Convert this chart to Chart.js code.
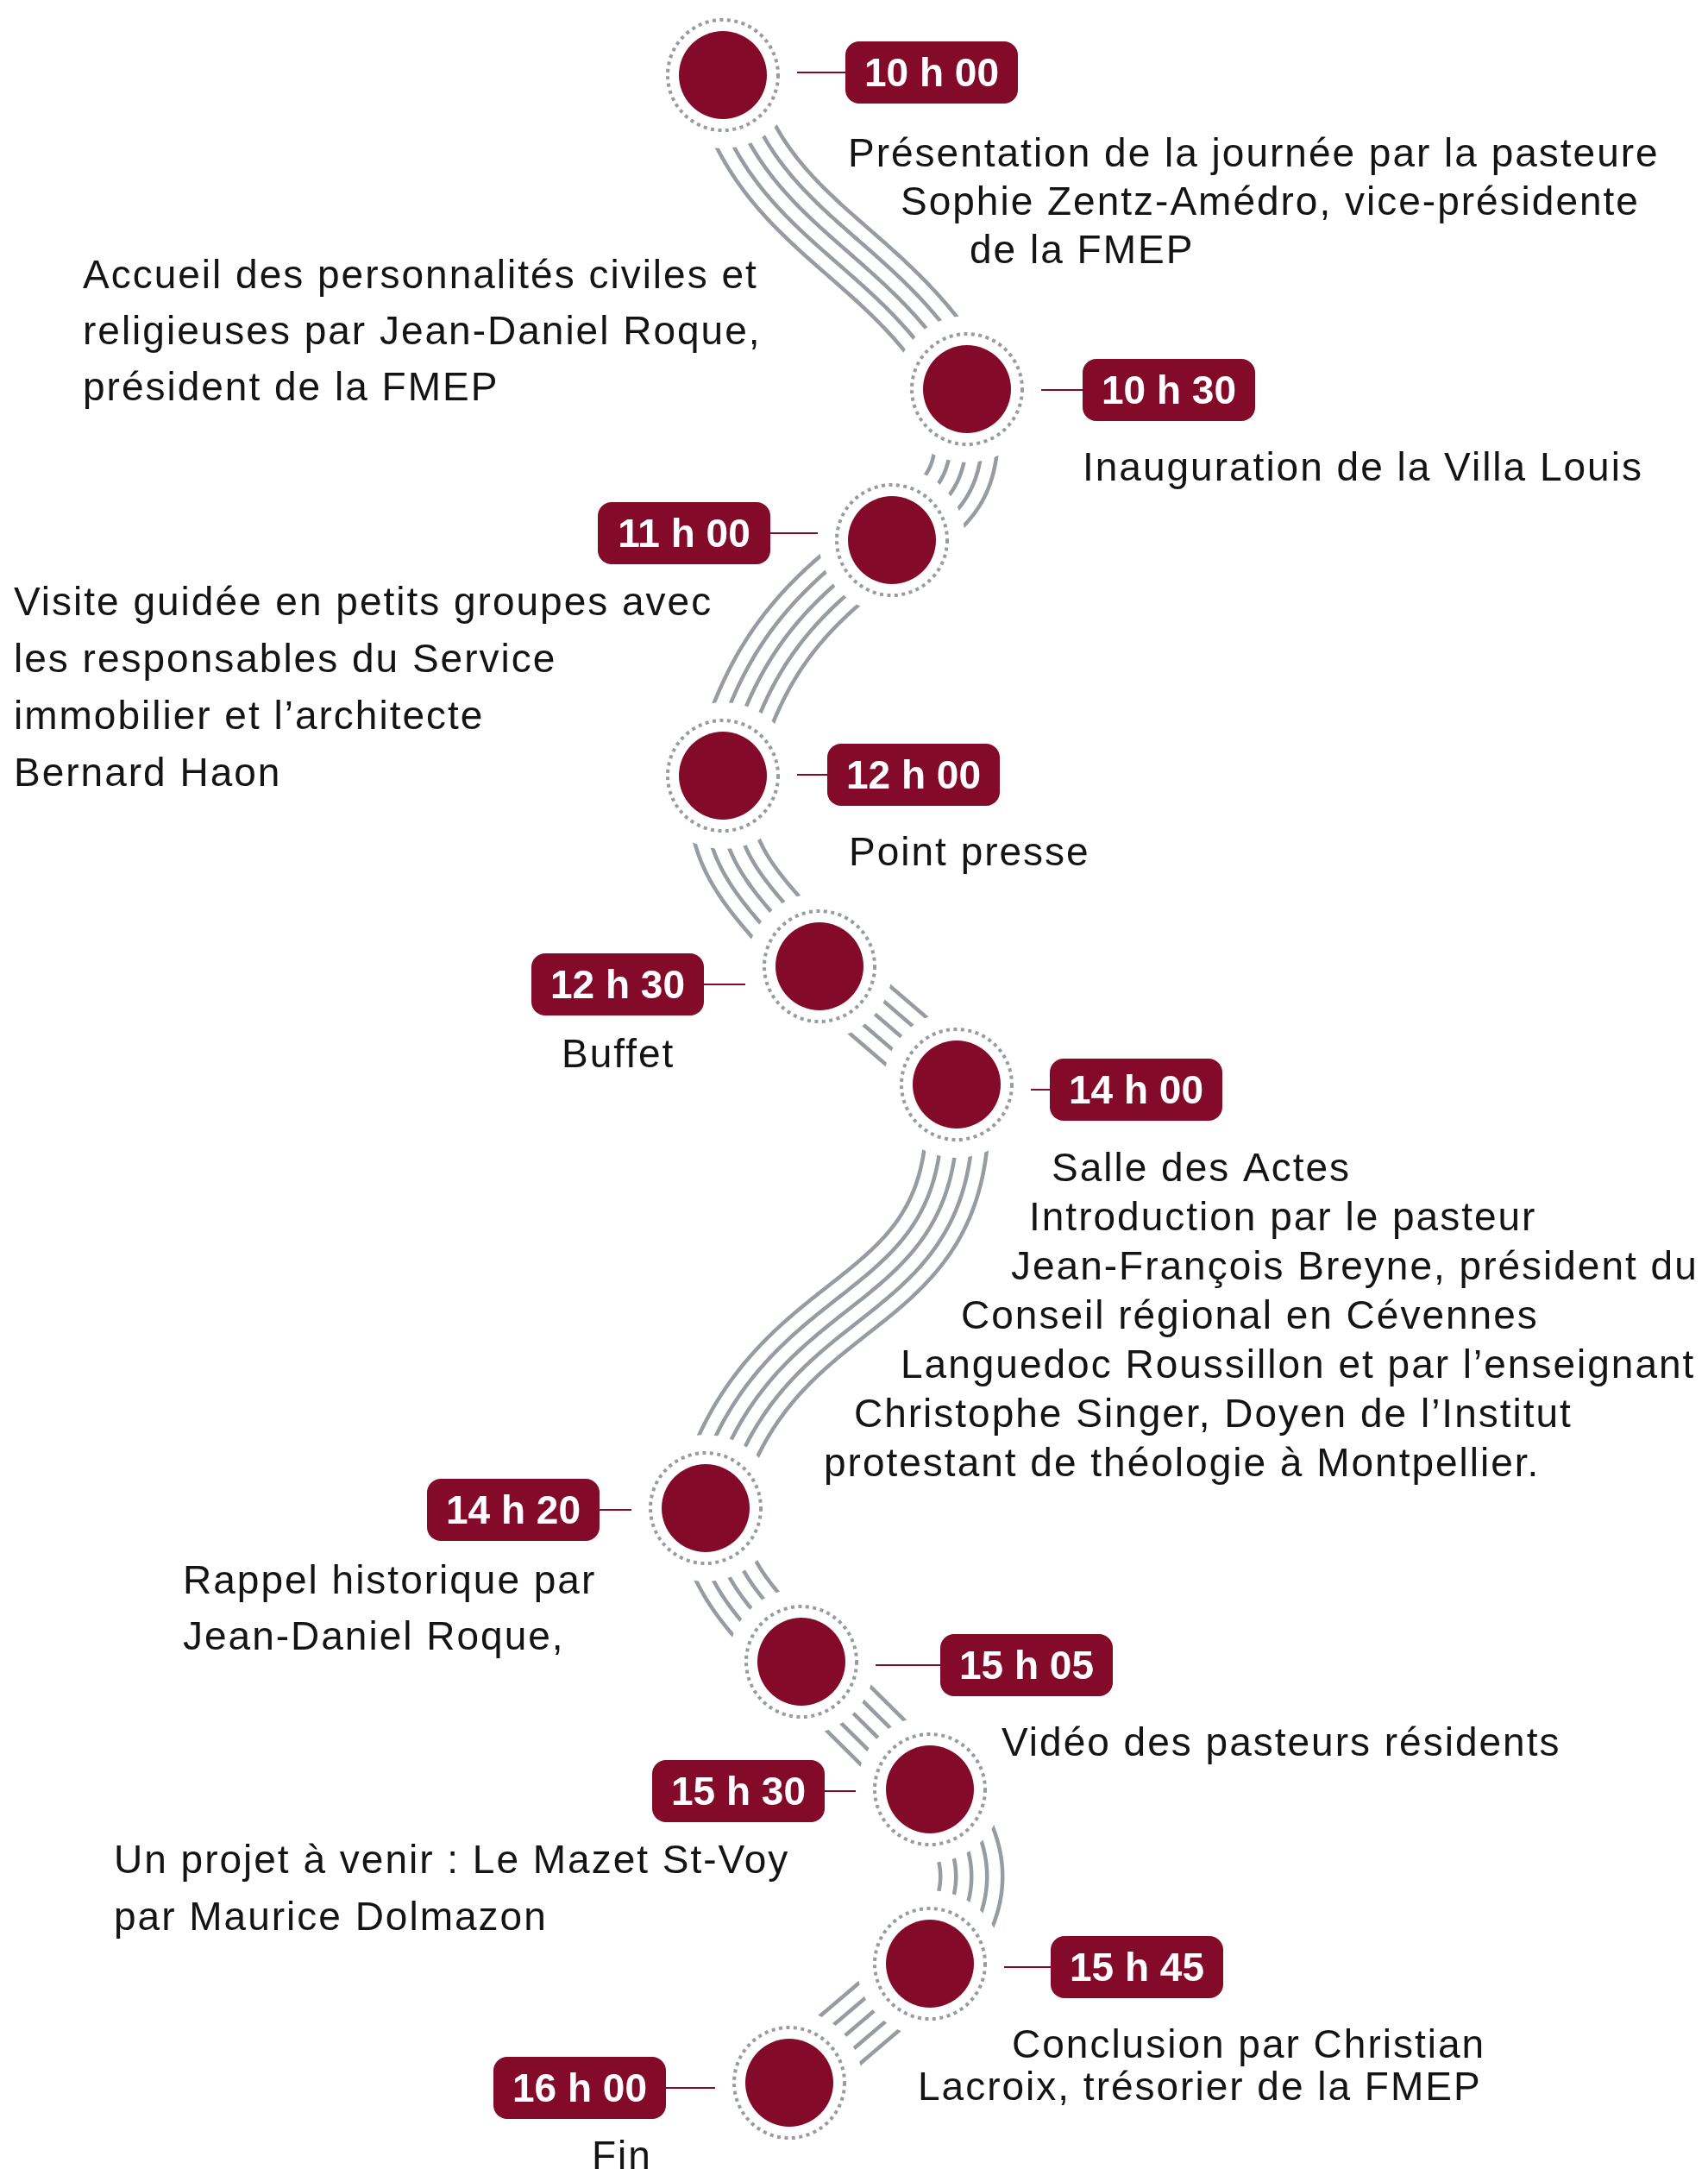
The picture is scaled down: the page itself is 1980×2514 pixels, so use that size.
<!DOCTYPE html>
<html lang="fr">
<head>
<meta charset="utf-8">
<title>Programme de la journée</title>
<script src="https://cdn.jsdelivr.net/npm/chart.js@4.4.1/dist/chart.umd.min.js"></script>
<style>
  html, body { margin: 0; padding: 0; background: #fff; }
  #wrap { width: 1980px; height: 2514px; }
</style>
</head>
<body>
<div id="wrap"><canvas id="timeline" width="1980" height="2514"></canvas></div>
<script>
// Steps of the day, top to bottom
const times = ['10 h 00', '10 h 30', '11 h 00', '12 h 00', '12 h 30', '14 h 00',
               '14 h 20', '15 h 05', '15 h 30', '15 h 45', '16 h 00'];

// Where each step sits on the winding path (chart units, y counts downward)
const stepX = [838, 1121, 1034, 838, 950, 1109, 818, 929, 1078, 1078, 915];
const stepY = [87, 451, 626, 899, 1120, 1257, 1748, 1926, 2074, 2276, 2414];

// Text blocks, one list of lines each
const notes = [
    ['Présentation de la journée par la pasteure', 'Sophie Zentz-Amédro, vice-présidente', 'de la FMEP'],
    ['Accueil des personnalités civiles et', 'religieuses par Jean-Daniel Roque,', 'président de la FMEP'],
    ['Inauguration de la Villa Louis'],
    ['Visite guidée en petits groupes avec', 'les responsables du Service', 'immobilier et l’architecte', 'Bernard Haon'],
    ['Point presse'],
    ['Buffet'],
    ['Salle des Actes', 'Introduction par le pasteur', 'Jean-François Breyne, président du',
     'Conseil régional en Cévennes', 'Languedoc Roussillon et par l’enseignant',
     'Christophe Singer, Doyen de l’Institut', 'protestant de théologie à Montpellier.'],
    ['Rappel historique par', 'Jean-Daniel Roque,'],
    ['Vidéo des pasteurs résidents'],
    ['Un projet à venir : Le Mazet St-Voy', 'par Maurice Dolmazon'],
    ['Conclusion par Christian', 'Lacroix, trésorier de la FMEP'],
    ['Fin']
];

// ---- layout (pixels) ----
const labelX = [1080, 1355, 793, 1059, 716, 1317, 595, 1190, 856, 1318, 672];   // time box centres
const labelY = [84, 452, 618, 898, 1141, 1263, 1750, 1930, 2076, 2280, 2420];
const noteX = [[983, 1044, 1124], [96, 96, 96], [1255], [16, 16, 16, 16], [984], [651],
               [1219, 1193, 1172, 1114, 1044, 990, 955], [212, 212], [1161], [132, 132],
               [1173, 1064], [686]];
const noteY = [[193, 249, 305], [334, 399, 464], [557], [713, 779, 845, 911], [1003], [1237],
               [1369, 1426, 1483, 1540, 1597, 1654, 1711], [1847, 1912], [2035], [2171, 2237],
               [2385, 2434], [2514]];
// direction of the path leaving / entering each step (degrees, 90 = straight down)
const turnOut = [76, 88, 145, 100, 41, 86, 80, 45, 45, 140];
const turnIn  = [62, 150, 105, 50, 41, 105, 45, 45, 135, 140];
const bendLen = [0.4, 0.5, 0.4, 0.4, 0.33, 0.5, 0.4, 0.33, 0.45, 0.33];

const MAROON = '#840a29';
const GREY = '#969ca2';
const INK = '#141414';
const DOT_R = 51, RING_R = 64, GAP_R = 85, STRAND_GAP = 18;
const BOX_W = 200, BOX_H = 72;

function toPx(chart, x, y) {
    return { x: chart.scales.x.getPixelForValue(x), y: chart.scales.y.getPixelForValue(y) };
}

// five parallel strands following a cubic curve between two steps
function drawTube(chart, i) {
    const ctx = chart.ctx;
    const a = toPx(chart, stepX[i], stepY[i]);
    const b = toPx(chart, stepX[i + 1], stepY[i + 1]);
    const k = Math.hypot(b.x - a.x, b.y - a.y) * bendLen[i];
    const t0 = turnOut[i] * Math.PI / 180, t1 = turnIn[i] * Math.PI / 180;
    const p1 = { x: a.x + k * Math.cos(t0), y: a.y + k * Math.sin(t0) };
    const p2 = { x: b.x - k * Math.cos(t1), y: b.y - k * Math.sin(t1) };
    for (let s = -2; s <= 2; s++) {
        ctx.beginPath();
        for (let n = 0; n <= 160; n++) {
            const t = n / 160, u = 1 - t;
            const x = u * u * u * a.x + 3 * u * u * t * p1.x + 3 * u * t * t * p2.x + t * t * t * b.x;
            const y = u * u * u * a.y + 3 * u * u * t * p1.y + 3 * u * t * t * p2.y + t * t * t * b.y;
            const dx = 3 * u * u * (p1.x - a.x) + 6 * u * t * (p2.x - p1.x) + 3 * t * t * (b.x - p2.x);
            const dy = 3 * u * u * (p1.y - a.y) + 6 * u * t * (p2.y - p1.y) + 3 * t * t * (b.y - p2.y);
            const len = Math.hypot(dx, dy) || 1;
            const ox = x - dy / len * s * STRAND_GAP;
            const oy = y + dx / len * s * STRAND_GAP;
            if (n === 0) ctx.moveTo(ox, oy); else ctx.lineTo(ox, oy);
        }
        ctx.stroke();
    }
}

const pathPlugin = {
    id: 'windingPath',
    beforeDatasetsDraw(chart) {
        const ctx = chart.ctx;
        ctx.save();
        ctx.strokeStyle = GREY;
        ctx.lineWidth = 4.5;
        for (let i = 0; i < stepX.length - 1; i++) drawTube(chart, i);

        // leave a clear gap round every step, then the dotted ring
        stepX.forEach((x, i) => {
            const p = toPx(chart, x, stepY[i]);
            ctx.fillStyle = '#fff';
            ctx.beginPath();
            ctx.arc(p.x, p.y, GAP_R, 0, Math.PI * 2);
            ctx.fill();
            ctx.setLineDash([4, 4.5]);
            ctx.lineWidth = 4;
            ctx.strokeStyle = GREY;
            ctx.beginPath();
            ctx.arc(p.x, p.y, RING_R, 0, Math.PI * 2);
            ctx.stroke();
            ctx.setLineDash([]);
        });
        ctx.restore();
    },
    afterDatasetsDraw(chart) {
        const ctx = chart.ctx;
        ctx.save();
        // connector + time box
        times.forEach((label, i) => {
            const p = toPx(chart, stepX[i], stepY[i]);
            const right = labelX[i] > p.x;
            const edge = right ? labelX[i] - BOX_W / 2 : labelX[i] + BOX_W / 2;
            const start = right ? p.x + GAP_R + 1 : p.x - GAP_R - 1;
            ctx.strokeStyle = MAROON;
            ctx.lineWidth = 2;
            ctx.beginPath();
            ctx.moveTo(start, labelY[i]);
            ctx.lineTo(edge, labelY[i]);
            ctx.stroke();

            ctx.fillStyle = MAROON;
            ctx.beginPath();
            ctx.roundRect(labelX[i] - BOX_W / 2, labelY[i] - BOX_H / 2, BOX_W, BOX_H, 16);
            ctx.fill();

            ctx.fillStyle = '#fff';
            ctx.font = 'bold 46px "Liberation Sans", Arial, sans-serif';
            ctx.textAlign = 'center';
            ctx.textBaseline = 'alphabetic';
            ctx.fillText(label, labelX[i], labelY[i] + 16);
        });

        // descriptions
        ctx.fillStyle = INK;
        ctx.font = '46px "Liberation Sans", Arial, sans-serif';
        ctx.textAlign = 'left';
        ctx.letterSpacing = '2px';
        notes.forEach((lines, j) => {
            lines.forEach((line, k) => ctx.fillText(line, noteX[j][k], noteY[j][k]));
        });
        ctx.restore();
    }
};

new Chart(document.getElementById('timeline'), {
    type: 'scatter',
    data: {
        datasets: [{
            label: 'Programme',
            data: stepX.map((x, i) => ({ x: x, y: stepY[i] })),
            backgroundColor: MAROON,
            borderWidth: 0,
            pointRadius: DOT_R,
            pointHoverRadius: DOT_R,
            clip: false
        }]
    },
    options: {
        responsive: false,
        animation: false,
        devicePixelRatio: 1,
        events: [],
        layout: { padding: 0, autoPadding: false },
        scales: {
            x: { type: 'linear', min: 0, max: 1980, display: false },
            y: { type: 'linear', min: 0, max: 2514, reverse: true, display: false }
        },
        plugins: {
            legend: { display: false },
            tooltip: { enabled: false }
        }
    },
    plugins: [pathPlugin]
});
</script>
</body>
</html>
